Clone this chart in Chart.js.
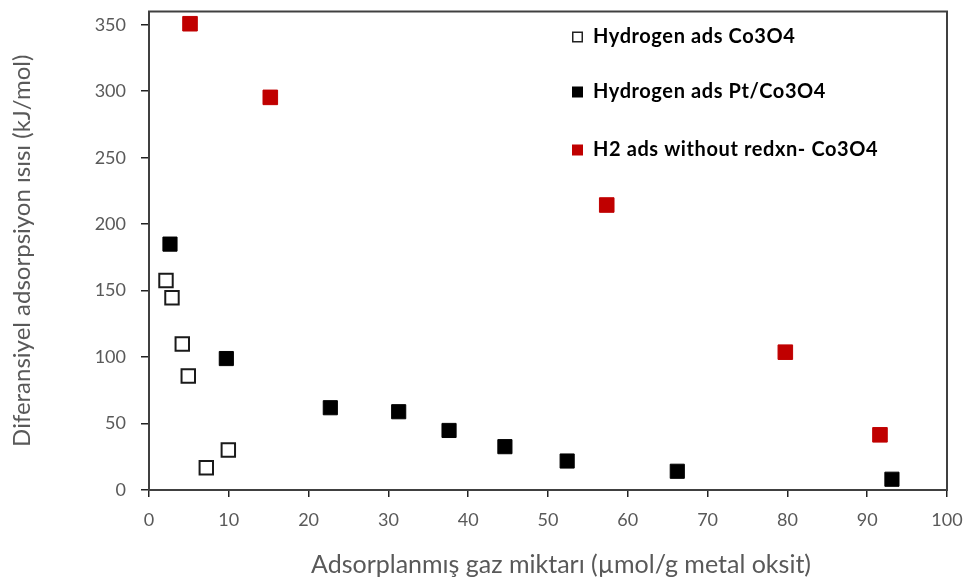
<!DOCTYPE html>
<html>
<head>
<meta charset="utf-8">
<script src="https://cdn.jsdelivr.net/npm/chart.js@4.4.1/dist/chart.umd.min.js"></script>
<style>
  html, body { margin: 0; padding: 0; background: #ffffff; }
  #wrap { width: 971px; height: 584px; position: relative; }
</style>
</head>
<body>
<div id="wrap"><canvas id="c" width="971" height="584"></canvas></div>
<script>
// Adsorbed amount (µmol/g) and differential heat of adsorption (kJ/mol)
const seriesNames = [
  'Hydrogen ads Co3O4',
  'Hydrogen ads Pt/Co3O4',
  'H2 ads without redxn- Co3O4'
];
const xCo3O4 = [2.13, 2.88, 4.17, 4.92, 7.18, 9.94];
const yCo3O4 = [157.6, 144.6, 109.9, 85.8, 16.7, 30.1];
const xPtCo3O4 = [2.63, 9.69, 22.72, 31.29, 37.6, 44.6, 52.4, 66.2, 93.1];
const yPtCo3O4 = [185.0, 98.9, 61.9, 58.9, 44.8, 32.6, 21.8, 14.1, 8.1];
const xNoRedxn = [5.14, 15.2, 57.36, 79.74, 91.6];
const yNoRedxn = [350.8, 295.4, 214.4, 103.7, 41.5];
const xTicks = [0, 10, 20, 30, 40, 50, 60, 70, 80, 90, 100];
const yTicks = [0, 50, 100, 150, 200, 250, 300, 350];
const xTitle = 'Adsorplanmış gaz miktarı (µmol/g metal oksit)';
const yTitle = 'Diferansiyel adsorpsiyon ısısı (kJ/mol)';

const toPoints = (xs, ys) => xs.map((x, i) => ({ x: x, y: ys[i] }));

const FONT = "Lato, 'Open Sans', sans-serif";

// Frame around the plot area
const frame = {
  id: 'frame',
  beforeDatasetsDraw(chart) {
    const { ctx, chartArea: a } = chart;
    ctx.save();
    ctx.strokeStyle = '#404040';
    ctx.lineWidth = 2;
    ctx.strokeRect(a.left, a.top, a.right - a.left, a.bottom - a.top);
    ctx.restore();
  }
};

// X axis title, centred under the whole chart body
const bottomTitle = {
  id: 'bottomTitle',
  afterDraw(chart) {
    const ctx = chart.ctx;
    ctx.save();
    ctx.font = "25px " + FONT;
    ctx.fillStyle = '#595959';
    ctx.textAlign = 'center';
    ctx.textBaseline = 'middle';
    ctx.fillText(xTitle, 561, 565);
    ctx.restore();
  }
};

// Legend drawn inside the plot area, top right
const insideLegend = {
  id: 'insideLegend',
  afterDatasetsDraw(chart) {
    const ctx = chart.ctx;
    const rows = [37, 92, 150];
    const markX = 572, textX = 593, side = 11;
    ctx.save();
    ctx.font = "bold 20px " + FONT;
    ctx.letterSpacing = '0.6px';
    ctx.textBaseline = 'middle';
    chart.data.datasets.forEach((ds, i) => {
      const y = rows[i];
      if (ds.legendHollow) {
        ctx.fillStyle = '#ffffff';
        ctx.fillRect(markX, y - side / 2, side, side);
        ctx.strokeStyle = '#222222';
        ctx.lineWidth = 1.5;
        ctx.strokeRect(markX + 0.75, y - side / 2 + 0.75, side - 1.5, side - 1.5);
      } else {
        ctx.fillStyle = ds.backgroundColor;
        ctx.fillRect(markX, y - side / 2, side, side);
      }
      ctx.fillStyle = '#000000';
      ctx.fillText(ds.label, textX, y);
    });
    ctx.restore();
  }
};

new Chart(document.getElementById('c'), {
  type: 'scatter',
  data: {
    datasets: [
      {
        label: seriesNames[0],
        data: toPoints(xCo3O4, yCo3O4),
        pointStyle: 'rect',
        pointRadius: 9.5,
        pointHoverRadius: 9.5,
        backgroundColor: '#ffffff',
        borderColor: '#1a1a1a',
        borderWidth: 2,
        legendHollow: true
      },
      {
        label: seriesNames[1],
        data: toPoints(xPtCo3O4, yPtCo3O4),
        pointStyle: 'rect',
        pointRadius: 10,
        pointHoverRadius: 10,
        backgroundColor: '#000000',
        borderColor: '#000000',
        borderWidth: 1
      },
      {
        label: seriesNames[2],
        data: toPoints(xNoRedxn, yNoRedxn),
        pointStyle: 'rect',
        pointRadius: 10.3,
        pointHoverRadius: 10.3,
        backgroundColor: '#c00000',
        borderColor: '#c00000',
        borderWidth: 1
      }
    ]
  },
  options: {
    responsive: false,
    animation: false,
    layout: { padding: { top: 8, right: 24, left: 0, bottom: 0 } },
    plugins: {
      legend: { display: false },
      tooltip: { enabled: false }
    },
    scales: {
      x: {
        type: 'linear',
        min: 0,
        max: 100,
        afterBuildTicks(scale) { scale.ticks = xTicks.map(v => ({ value: v })); },
        afterFit(scale) { scale.height = 94; scale.paddingLeft = 0; scale.paddingRight = 0; },
        grid: { display: true, drawOnChartArea: false, drawTicks: true, tickLength: 7, color: '#222222', lineWidth: 1.5 },
        border: { display: true, color: '#222222', width: 2 },
        ticks: { color: '#595959', font: { family: FONT, size: 18 }, padding: 12, maxRotation: 0 },
        title: { display: false, text: xTitle }
      },
      y: {
        type: 'linear',
        min: 0,
        max: 360,
        afterBuildTicks(scale) { scale.ticks = yTicks.map(v => ({ value: v })); },
        afterFit(scale) { scale.width = 149; scale.paddingTop = 0; scale.paddingBottom = 0; },
        grid: { display: true, drawOnChartArea: false, drawTicks: true, tickLength: 8, color: '#222222', lineWidth: 1.5 },
        border: { display: true, color: '#222222', width: 2 },
        ticks: { color: '#595959', font: { family: FONT, size: 18 }, padding: 15 },
        title: {
          display: true,
          text: yTitle,
          color: '#595959',
          font: { family: FONT, size: 24 },
          padding: { top: 8, bottom: 0 }
        }
      }
    }
  },
  plugins: [frame, bottomTitle, insideLegend]
});
</script>
</body>
</html>
